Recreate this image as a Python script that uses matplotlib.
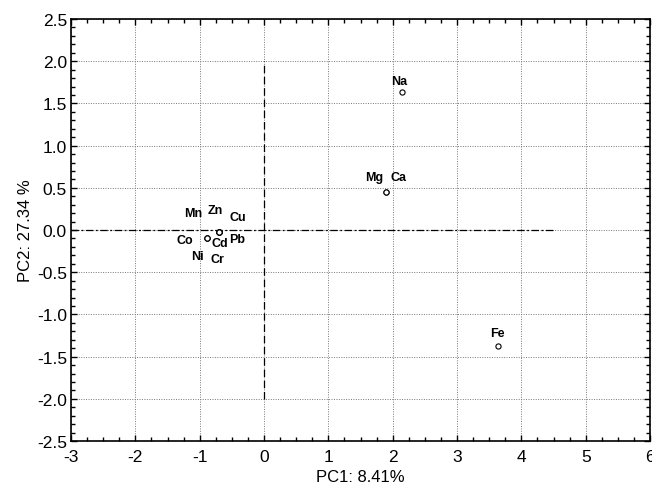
import matplotlib.pyplot as plt
from matplotlib.ticker import MultipleLocator
import numpy as np

plt.rcParams['font.family'] = ['Liberation Sans', 'DejaVu Sans']

# PCA scores
elements = ['Na', 'Mg', 'Ca', 'Fe', 'Mn', 'Co', 'Ni', 'Zn', 'Cu', 'Cd', 'Pb', 'Cr']
pc1 = [2.14, 1.89, 1.89, 3.63, -0.89, -0.89, -0.89, -0.70, -0.70, -0.70, -0.70, -0.70]
pc2 = [1.63, 0.45, 0.45, -1.37, -0.09, -0.09, -0.09, -0.02, -0.02, -0.02, -0.02, -0.02]

# label offsets in pixels (dx, dy) so overlapping labels stay readable
label_offsets = {
    'Na': (-3, 11), 'Mg': (-11, 15), 'Ca': (13, 15), 'Fe': (0, 13),
    'Mn': (-14, 25), 'Co': (-22, -2), 'Ni': (-9, -18),
    'Zn': (-4, 22), 'Cu': (19, 15), 'Cd': (1, -11), 'Pb': (18, -7), 'Cr': (-2, -27),
}

fig = plt.figure(figsize=(6.52, 4.89), dpi=100)
ax = fig.add_axes([0.109, 0.096, 0.888, 0.863])

ax.set_xlim(-3, 6)
ax.set_ylim(-2.5, 2.5)
ax.xaxis.set_major_locator(MultipleLocator(1))
ax.xaxis.set_minor_locator(MultipleLocator(0.25))
ax.yaxis.set_major_locator(MultipleLocator(0.5))
ax.yaxis.set_minor_locator(MultipleLocator(0.1))
ax.yaxis.set_major_formatter(plt.FuncFormatter(lambda v, p: f'{v:.1f}'))
ax.xaxis.set_major_formatter(plt.FuncFormatter(lambda v, p: f'{v:g}'))

ax.grid(True, which='major', linestyle=(0, (1, 1.5)), color='#777777', linewidth=0.7)
ax.tick_params(which='both', direction='in', top=True, right=True, labelsize=12.5,
               colors='black', pad=3)
ax.tick_params(axis='x', which='major', pad=6)
ax.tick_params(which='major', length=4, width=1)
ax.tick_params(which='minor', length=3, width=1)
for s in ax.spines.values():
    s.set_linewidth(1.2)

# origin lines
ax.plot([0, 0], [-2, 2], color='black', linestyle=(0, (6, 3)), linewidth=0.9, zorder=2)
ax.plot([-3, 4.5], [0, 0], color='black', linestyle=(0, (6, 2, 1.5, 2)), linewidth=0.9, zorder=2)

ax.scatter(pc1, pc2, s=14, facecolors='white', edgecolors='black', linewidths=0.8, zorder=3)

for name, x, y in zip(elements, pc1, pc2):
    dx, dy = label_offsets[name]
    ax.annotate(name, (x, y), xytext=(dx, dy), textcoords='offset pixels',
                ha='center', va='center', fontsize=9, fontweight='bold', zorder=4)

ax.set_xlabel('PC1: 8.41%', fontsize=12, labelpad=3)
ax.set_ylabel('PC2: 27.34 %', fontsize=12, labelpad=3)

fig.savefig('out.png', dpi=100)
